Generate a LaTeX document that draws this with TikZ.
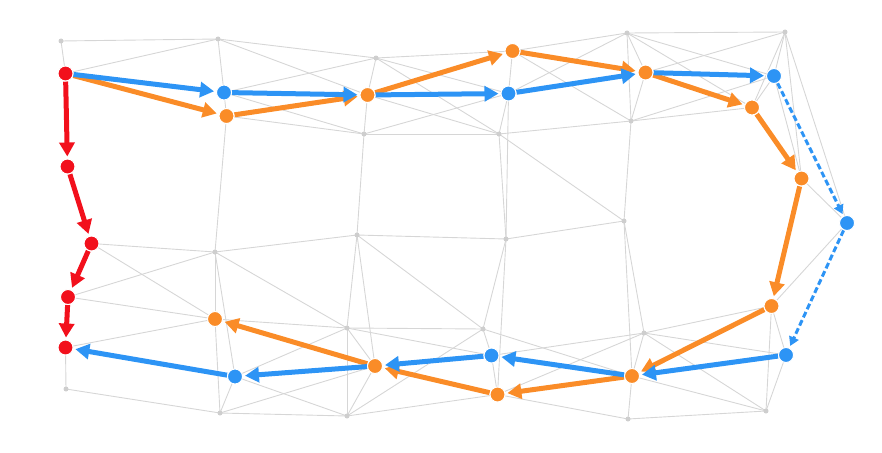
\documentclass[tikz,border=0pt]{standalone}
\usetikzlibrary{arrows.meta}
\definecolor{cred}{RGB}{242,16,28}
\definecolor{cblue}{RGB}{45,148,245}
\definecolor{corange}{RGB}{250,140,40}
\definecolor{meshgray}{RGB}{214,214,214}
\definecolor{dotgray}{RGB}{206,206,206}
\pgfdeclarelayer{meshlayer}
\pgfdeclarelayer{arrowlayer}
\pgfsetlayers{meshlayer,arrowlayer,main}
\tikzset{
  mesh/.style={draw=meshgray, line width=0.9pt},
  gdot/.style={circle, fill=dotgray, inner sep=0pt, minimum size=5pt},
  cnode/.style={circle, draw=white, line width=1pt, inner sep=0pt, minimum size=15pt},
  rnode/.style={cnode, fill=cred},
  bnode/.style={cnode, fill=cblue},
  onode/.style={cnode, fill=corange},
  tip/.style={-{Triangle[length=14pt,width=15pt]}, shorten >=2pt, shorten <=0pt},
  rarrow/.style={draw=cred, line width=5pt, tip},
  barrow/.style={draw=cblue, line width=5pt, tip},
  oarrow/.style={draw=corange, line width=5pt, tip},
  darrow/.style={draw=cblue, line width=3pt, dash pattern=on 6pt off 3pt,
    -{Triangle[length=9pt,width=10pt]}, shorten >=2pt}
}
\begin{document}
\begin{tikzpicture}[x=1pt,y=-1pt]
\useasboundingbox (0,0) rectangle (882,452);
% gray vertices
\node[gdot] (a) at (61,41) {};
\node[gdot] (b) at (218,39) {};
\node[gdot] (c) at (376,58) {};
\node[gdot] (e) at (627,33) {};
\node[gdot] (f) at (785,32) {};
\node[gdot] (g) at (364,134) {};
\node[gdot] (h) at (499,134) {};
\node[gdot] (i) at (631,121) {};
\node[gdot] (j) at (215,252) {};
\node[gdot] (k) at (357,235) {};
\node[gdot] (l) at (506,239) {};
\node[gdot] (m) at (624,221) {};
\node[gdot] (n) at (347,328) {};
\node[gdot] (o) at (483,329) {};
\node[gdot] (p) at (644,333) {};
\node[gdot] (q) at (66,389) {};
\node[gdot] (r) at (220,413) {};
\node[gdot] (s) at (347,416) {};
\node[gdot] (t) at (628,419) {};
\node[gdot] (u) at (766,411) {};
% coloured vertices
\node[rnode] (R1) at (65.5,73.5) {};
\node[rnode] (R2) at (67.5,166.5) {};
\node[rnode] (R3) at (91.5,243.5) {};
\node[rnode] (R4) at (68,297) {};
\node[rnode] (R5) at (65.5,347.5) {};
\node[bnode] (B1) at (224,92.5) {};
\node[bnode] (B2) at (508.5,93.5) {};
\node[bnode] (B3) at (774,76) {};
\node[bnode] (B4) at (847,223) {};
\node[bnode] (B5) at (786,355) {};
\node[bnode] (B6) at (491.5,355.5) {};
\node[bnode] (B7) at (235,376.5) {};
\node[onode] (O1) at (226.5,116) {};
\node[onode] (O2) at (367.5,95) {};
\node[onode] (O3) at (512.5,51) {};
\node[onode] (O4) at (645.5,72.5) {};
\node[onode] (O5) at (752,107.5) {};
\node[onode] (O6) at (801.5,178.5) {};
\node[onode] (O7) at (771.5,306) {};
\node[onode] (O8) at (632,376) {};
\node[onode] (O9) at (497.5,394.5) {};
\node[onode] (O10) at (375,366) {};
\node[onode] (O11) at (215,319) {};
% mesh
\begin{pgfonlayer}{meshlayer}
\foreach \u/\v in {a/b,a/R1,R1/b,b/c,b/O2,b/B1,B1/c,B1/g,B1/O1,O1/g,O1/j,
  c/O2,c/O3,c/h,c/B2,O2/g,O2/h,g/h,g/k,g/B2,O3/B2,B2/h,B2/l,h/l,O3/e,O3/i,
  e/B2,e/f,e/O4,e/i,e/B3,e/O5,h/i,h/m,O4/f,O4/i,i/O5,i/B3,i/m,f/B3,f/O5,
  f/O6,f/B4,B3/O5,B3/O6,O6/B4,O7/B4,
  R3/j,R3/O11,R4/j,R4/O11,R5/O11,R5/q,q/r,j/k,j/n,j/O11,j/B7,O11/r,O11/n,
  B7/r,B7/n,B7/s,r/O10,r/s,k/l,k/n,k/O10,k/o,l/m,l/o,l/O9,n/o,n/O10,n/s,
  n/B6,s/o,O10/s,s/O9,o/B6,B6/O9,o/O8,p/B6,p/O9,O9/t,m/p,m/O8,O7/p,O7/u,
  p/B5,p/u,p/O8,O8/t,O8/u,t/u,B5/u,O7/B5}
  \draw[mesh] (\u.center) -- (\v.center);
\end{pgfonlayer}
% paths
\begin{pgfonlayer}{arrowlayer}
\draw[oarrow] (R1) -- (O1);
\draw[oarrow] (O1) -- (O2);
\draw[oarrow] (O2) -- (O3);
\draw[oarrow] (O3) -- (O4);
\draw[oarrow] (O4) -- (O5);
\draw[oarrow] (O5) -- (O6);
\draw[oarrow] (O6) -- (O7);
\draw[oarrow] (O7) -- (O8);
\draw[oarrow] (O8) -- (O9);
\draw[oarrow] (O9) -- (O10);
\draw[oarrow] (O10) -- (O11);
\draw[barrow] (R1) -- (B1);
\draw[barrow] (B1) -- (O2);
\draw[barrow] (O2) -- (B2);
\draw[barrow] (B2) -- (O4);
\draw[barrow] (O4) -- (B3);
\draw[darrow] (B3) -- (B4);
\draw[darrow] (B4) -- (B5);
\draw[barrow] (B5) -- (O8);
\draw[barrow] (O8) -- (B6);
\draw[barrow] (B6) -- (O10);
\draw[barrow] (O10) -- (B7);
\draw[barrow] (B7) -- (R5);
\draw[rarrow] (R1) -- (R2);
\draw[rarrow] (R2) -- (R3);
\draw[rarrow] (R3) -- (R4);
\draw[rarrow] (R4) -- (R5);
\end{pgfonlayer}
\end{tikzpicture}
\end{document}
